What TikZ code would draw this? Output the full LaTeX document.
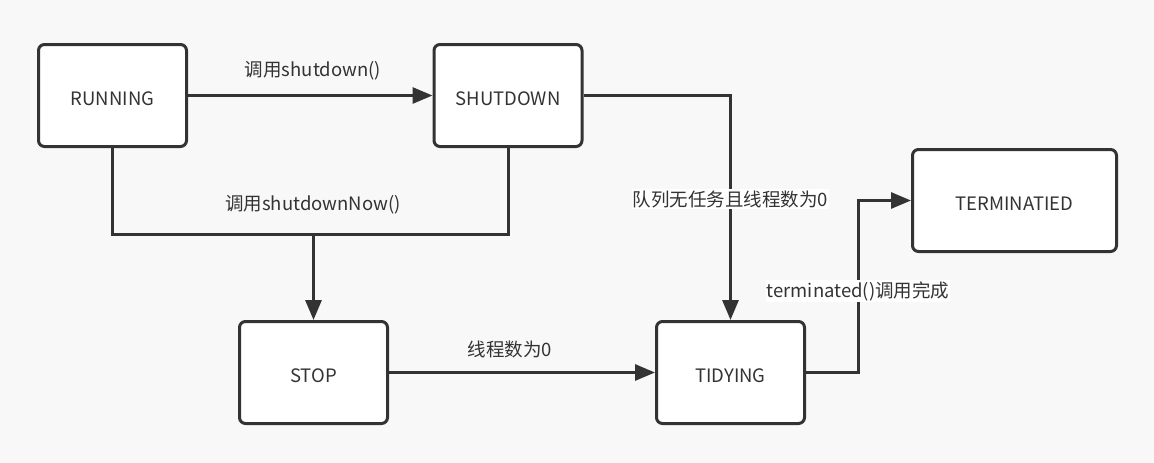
\documentclass[tikz,border=0pt]{standalone}
\usepackage{fontspec}
\setmainfont{Noto Sans CJK SC}
\usetikzlibrary{arrows.meta,positioning}
\definecolor{inkgray}{HTML}{333333}
\definecolor{paper}{HTML}{F8F8F8}
\tikzset{
  state/.style={draw=inkgray, line width=3pt, fill=white, rounded corners=6pt,
    minimum width=148pt, minimum height=102pt, text=inkgray,
    text height=22pt, text depth=3pt,
    font=\fontsize{18.5}{22}\selectfont},
  wire/.style={draw=inkgray, line width=3pt},
  flow/.style={wire, -{Triangle[length=20pt,width=16pt]}},
  tag/.style={text=inkgray, inner sep=1pt, font=\fontsize{18.5}{22}\selectfont},
  tagbox/.style={tag, fill=white},
}
\begin{document}
\begin{tikzpicture}[x=1pt,y=-1pt]
% background
\fill [paper] (0,0) rectangle (1154,463);
\useasboundingbox (0,0) rectangle (1154,463);

% states
\node [state] (running) at (112.5,95.5) {RUNNING};
\node [state] (shutdown) at (508,95.5) {SHUTDOWN};
\node [state, minimum width=204pt] (terminated) at (1014.5,200.5) {TERMINATIED};
\node [state] (stop) at (313.5,372.5) {STOP};
\node [state] (tidying) at (730.5,372.5) {TIDYING};

% transitions
\draw [flow] (running) -- (shutdown);
\coordinate (merge) at (313.5,234);
\draw [wire] (running.south) |- (merge) -| (shutdown.south);
\draw [flow] (merge) -- (stop);
\draw [flow] (shutdown.east) -| (tidying.north);
\draw [flow] (stop) -- (tidying);
\draw [flow] (tidying.east) -- ++(52,0) |- (terminated.west);

% labels
\node [tag] (lblshutdown) at (313,71) {调用shutdown()};
\node [tag] (lblnow) at (313,205) {调用shutdownNow()};
\node [tagbox] (lblempty) at (730.5,199) {队列无任务且线程数为0};
\node [tag] (lblzero) at (510,349) {线程数为0};
\node [tagbox] (lbldone) at (858,291) {terminated()调用完成};

\end{tikzpicture}
\end{document}
